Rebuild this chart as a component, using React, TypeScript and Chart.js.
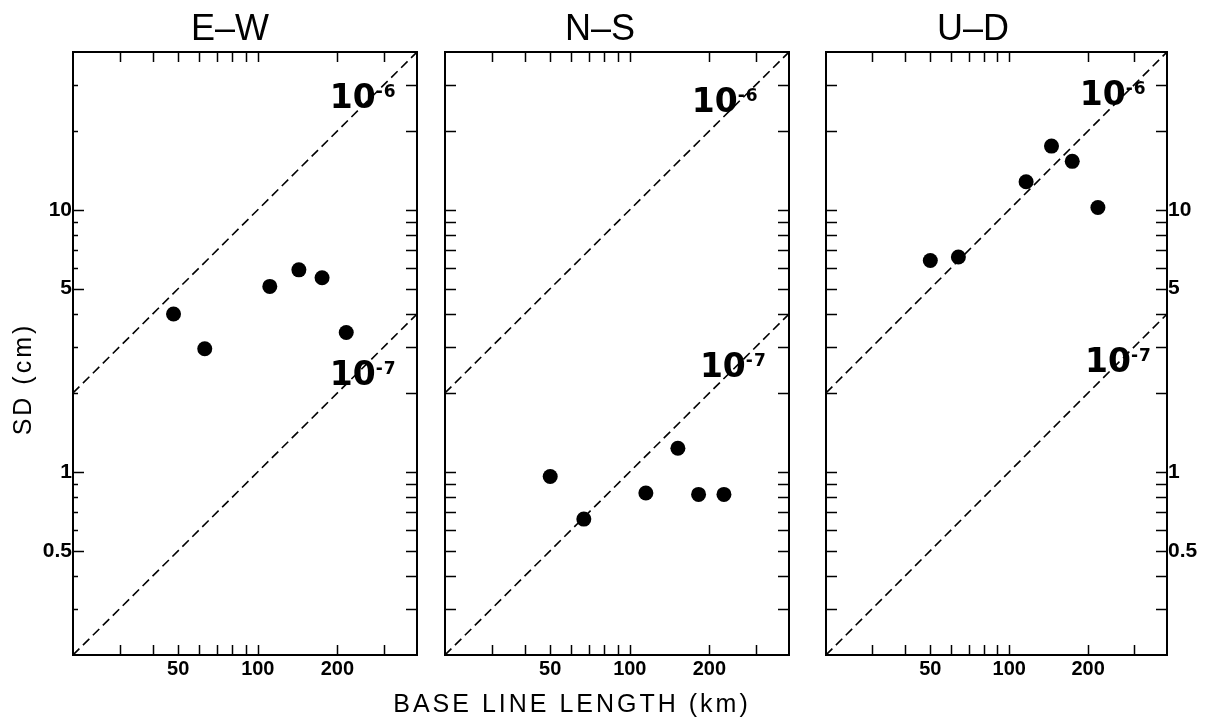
import React, { useEffect, useRef } from "react";
import { Chart, registerables } from "chart.js";

Chart.register(...registerables);

// ---------- data ----------
const X_MIN = 20;
const X_MAX = 400;
const Y_MIN = 0.2;
const Y_MAX = 40;

const X_TICKS = [20, 30, 40, 50, 60, 70, 80, 90, 100, 200, 300, 400];
const Y_TICKS = [0.2, 0.3, 0.4, 0.5, 0.6, 0.7, 0.8, 0.9, 1, 2, 3, 4, 5, 6, 7, 8, 9, 10, 20, 30, 40];
const X_LABELS = [50, 100, 200];
const Y_LABELS = [0.5, 1, 5, 10];

// base line length (km) and SD (cm)
const EW_L = [48, 63, 111, 143, 175, 216];
const EW_SD = [4.0, 2.95, 5.1, 5.9, 5.5, 3.4];
const NS_L = [50, 67, 115, 152, 182, 227];
const NS_SD = [0.96, 0.66, 0.83, 1.23, 0.82, 0.82];
const UD_L = [50, 64, 116, 145, 174, 218];
const UD_SD = [6.4, 6.6, 12.8, 17.5, 15.3, 10.2];

// reference strain lines (10^-6 and 10^-7)
const LINE_L = [20, 400];
const STRAIN_1E6_SD = [2, 40];
const STRAIN_1E7_SD = [0.2, 4];

const X_TITLE = "BASE LINE LENGTH (km)";
const Y_TITLE = "SD (cm)";

// ---------- layout / style ----------
const W = 1207;
const H = 724;
const Y_AXIS_W = 40;
const X_AXIS_H = 30;
const SANS = "'Liberation Sans', Arial, Helvetica, sans-serif";
const NARROW = "'Liberation Sans Narrow', 'Liberation Sans', Arial, sans-serif";
const DEJAVU = "'DejaVu Sans', 'Liberation Sans', sans-serif";

type PanelCfg = {
  key: string;
  title: string;
  titleX: number;
  L: number[];
  SD: number[];
  area: { left: number; top: number; right: number; bottom: number };
  yPos: "left" | "right";
  yLabels: boolean;
  leftMinorLen: number;
  lab6: [number, number];
  lab7: [number, number];
  drawXTitle: boolean;
  drawYTitle: boolean;
};

const PANELS: PanelCfg[] = [
  {
    key: "ew",
    title: "E–W",
    titleX: 230,
    L: EW_L,
    SD: EW_SD,
    area: { left: 73, top: 52, right: 417, bottom: 655 },
    yPos: "left",
    yLabels: true,
    leftMinorLen: 5,
    lab6: [192, 24.4],
    lab7: [192, 2.14],
    drawXTitle: false,
    drawYTitle: true,
  },
  {
    key: "ns",
    title: "N–S",
    titleX: 600,
    L: NS_L,
    SD: NS_SD,
    area: { left: 445, top: 52, right: 789, bottom: 655 },
    yPos: "left",
    yLabels: false,
    leftMinorLen: 11,
    lab6: [176, 23.6],
    lab7: [189, 2.3],
    drawXTitle: true,
    drawYTitle: false,
  },
  {
    key: "ud",
    title: "U–D",
    titleX: 973,
    L: UD_L,
    SD: UD_SD,
    area: { left: 826, top: 52, right: 1167, bottom: 655 },
    yPos: "right",
    yLabels: true,
    leftMinorLen: 11,
    lab6: [191, 25.1],
    lab7: [200, 2.4],
    drawXTitle: false,
    drawYTitle: false,
  },
];

function drawStrainLabel(ctx: CanvasRenderingContext2D, x: number, y: number, exp: string) {
  ctx.save();
  ctx.fillStyle = "#000";
  ctx.textAlign = "left";
  ctx.textBaseline = "alphabetic";
  ctx.font = `bold 33px ${DEJAVU}`;
  const bx = x - 3;
  ctx.fillText("10", bx, y);
  const w = ctx.measureText("10").width;
  ctx.font = `bold 17px ${DEJAVU}`;
  (ctx as any).letterSpacing = "1px";
  ctx.fillText(exp, bx + w, y - 11);
  ctx.restore();
}

function Panel({ cfg }: { cfg: PanelCfg }) {
  const ref = useRef<HTMLCanvasElement>(null);

  useEffect(() => {
    const canvas = ref.current;
    if (!canvas) return;
    const a = cfg.area;
    const padding = {
      left: a.left - (cfg.yPos === "left" ? Y_AXIS_W : 0),
      right: W - a.right - (cfg.yPos === "right" ? Y_AXIS_W : 0),
      top: a.top,
      bottom: H - a.bottom - X_AXIS_H,
    };

    const overlay = {
      id: "overlay_" + cfg.key,
      afterDraw(chart: any) {
        const ctx: CanvasRenderingContext2D = chart.ctx;
        const ca = chart.chartArea;
        const xs = chart.scales.x;
        const ys = chart.scales.y;
        ctx.save();
        ctx.strokeStyle = "#000";
        ctx.lineCap = "butt";
        // ticks
        ctx.lineWidth = 1.5;
        ctx.beginPath();
        for (const v of X_TICKS) {
          if (v <= X_MIN || v >= X_MAX) continue;
          const px = Math.round(xs.getPixelForValue(v)) + 0.5;
          ctx.moveTo(px, ca.bottom);
          ctx.lineTo(px, ca.bottom - 10);
          ctx.moveTo(px, ca.top);
          ctx.lineTo(px, ca.top + 10);
        }
        for (const v of Y_TICKS) {
          if (v <= Y_MIN || v >= Y_MAX) continue;
          const py = Math.round(ys.getPixelForValue(v)) + 0.5;
          const leftLen = Y_LABELS.includes(v) ? 11 : cfg.leftMinorLen;
          ctx.moveTo(ca.left, py);
          ctx.lineTo(ca.left + leftLen, py);
          ctx.moveTo(ca.right, py);
          ctx.lineTo(ca.right - 11, py);
        }
        ctx.stroke();
        // frame
        ctx.lineWidth = 2;
        ctx.strokeRect(ca.left, ca.top, ca.right - ca.left, ca.bottom - ca.top);

        // strain labels
        drawStrainLabel(ctx, xs.getPixelForValue(cfg.lab6[0]), ys.getPixelForValue(cfg.lab6[1]), "-6");
        drawStrainLabel(ctx, xs.getPixelForValue(cfg.lab7[0]), ys.getPixelForValue(cfg.lab7[1]), "-7");

        // panel title
        ctx.fillStyle = "#000";
        ctx.font = `36px ${SANS}`;
        ctx.textAlign = "center";
        ctx.textBaseline = "alphabetic";
        ctx.fillText(cfg.title, cfg.titleX, 40);

        // axis titles
        if (cfg.drawXTitle) {
          ctx.font = `25px ${SANS}`;
          (ctx as any).letterSpacing = "3px";
          ctx.textAlign = "center";
          ctx.fillText(X_TITLE, 572, 712);
          (ctx as any).letterSpacing = "0px";
        }
        if (cfg.drawYTitle) {
          ctx.save();
          ctx.translate(31, 381);
          ctx.rotate(-Math.PI / 2);
          ctx.font = `25px ${SANS}`;
          (ctx as any).letterSpacing = "3px";
          ctx.textAlign = "center";
          ctx.fillText(Y_TITLE, 2, 0);
          ctx.restore();
        }
        ctx.restore();
      },
    };

    const chart = new Chart(canvas, {
      type: "scatter",
      data: {
        datasets: [
          {
            label: "1e-6",
            data: LINE_L.map((x, i) => ({ x, y: STRAIN_1E6_SD[i] })),
            showLine: true,
            borderColor: "#000",
            borderWidth: 1.6,
            borderDash: [9, 5],
            pointRadius: 0,
            fill: false,
          },
          {
            label: "1e-7",
            data: LINE_L.map((x, i) => ({ x, y: STRAIN_1E7_SD[i] })),
            showLine: true,
            borderColor: "#000",
            borderWidth: 1.6,
            borderDash: [9, 5],
            pointRadius: 0,
            fill: false,
          },
          {
            label: cfg.title,
            data: cfg.L.map((x, i) => ({ x, y: cfg.SD[i] })),
            showLine: false,
            pointRadius: 7.5,
            pointBackgroundColor: "#000",
            pointBorderWidth: 0,
            backgroundColor: "#000",
            borderColor: "#000",
          },
        ],
      },
      options: {
        responsive: false,
        animation: false,
        devicePixelRatio: 1,
        events: [],
        layout: { padding, autoPadding: false },
        plugins: {
          legend: { display: false },
          tooltip: { enabled: false },
          title: { display: false },
        },
        scales: {
          x: {
            type: "logarithmic",
            position: "bottom",
            min: X_MIN,
            max: X_MAX,
            afterBuildTicks: (s: any) => {
              s.ticks = X_TICKS.map((v) => ({ value: v }));
            },
            afterFit: (s: any) => {
              s.height = X_AXIS_H;
            },
            grid: { display: false, drawTicks: false },
            border: { display: false },
            ticks: {
              autoSkip: false,
              maxRotation: 0,
              minRotation: 0,
              padding: 2,
              color: "#000",
              font: { family: SANS, size: 20, weight: "bold" },
              callback: (v: any) => (X_LABELS.includes(Number(v)) ? String(v) : ""),
            },
          },
          y: {
            type: "logarithmic",
            position: cfg.yPos,
            min: Y_MIN,
            max: Y_MAX,
            afterBuildTicks: (s: any) => {
              s.ticks = Y_TICKS.map((v) => ({ value: v }));
            },
            afterFit: (s: any) => {
              s.width = Y_AXIS_W;
            },
            grid: { display: false, drawTicks: false },
            border: { display: false },
            ticks: {
              autoSkip: false,
              padding: 1,
              color: "#000",
              font: { family: NARROW, size: 21, weight: "bold" },
              callback: (v: any) =>
                cfg.yLabels && Y_LABELS.includes(Number(v)) ? String(v) : "",
            },
          },
        },
      },
      plugins: [overlay],
    } as any);

    return () => chart.destroy();
  }, [cfg]);

  return (
    <canvas
      ref={ref}
      width={W}
      height={H}
      style={{ position: "absolute", left: 0, top: 0, width: W, height: H }}
    />
  );
}

export default function App() {
  return (
    <div
      style={{
        position: "absolute",
        left: 0,
        top: 0,
        width: W,
        height: H,
        background: "#fff",
        overflow: "hidden",
      }}
    >
      {PANELS.map((p) => (
        <Panel key={p.key} cfg={p} />
      ))}
    </div>
  );
}
